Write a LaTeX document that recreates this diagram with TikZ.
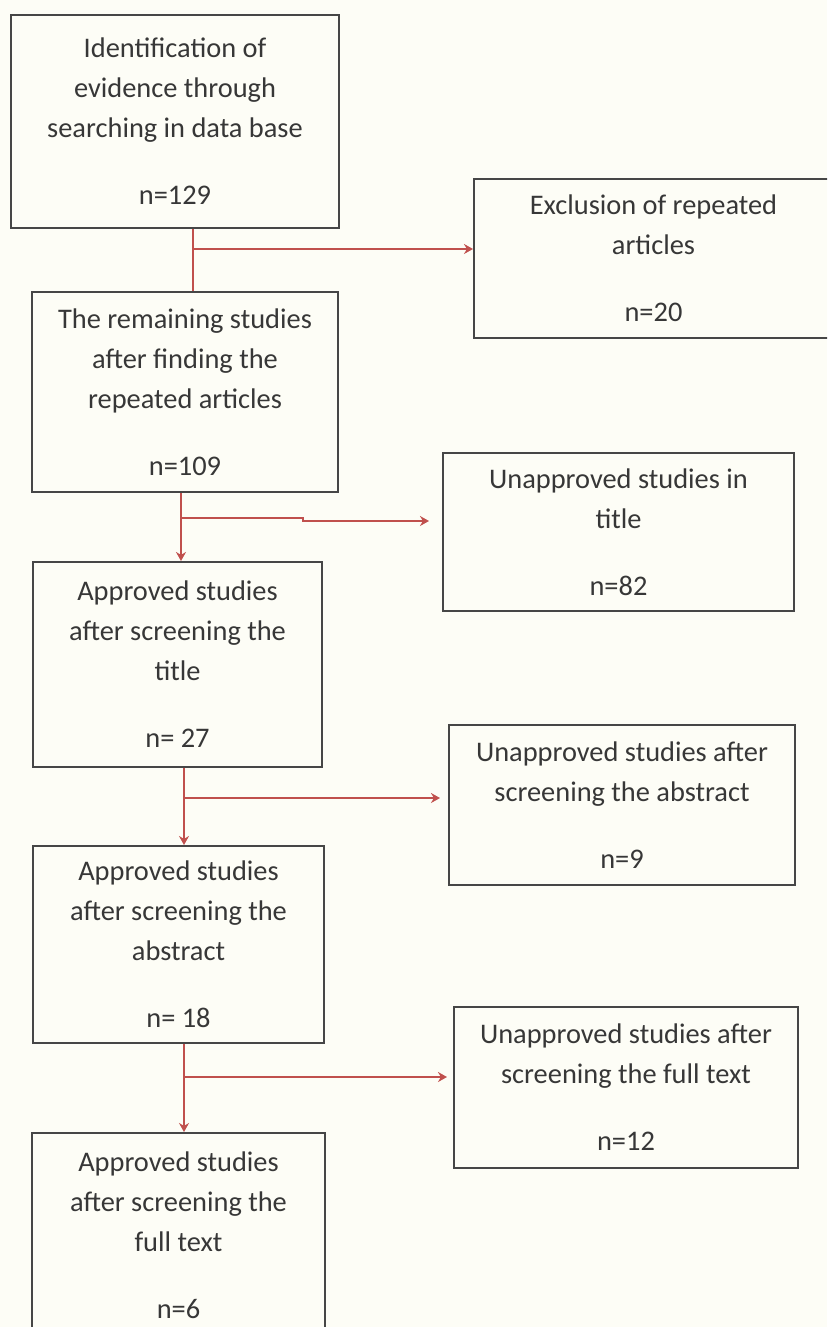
\documentclass[tikz,border=0pt]{standalone}
\usepackage{fontspec}
\setmainfont{Carlito}
\usetikzlibrary{arrows.meta}
\definecolor{paper}{RGB}{253,253,246}
\definecolor{flowred}{RGB}{192,80,77}
\definecolor{edgegray}{RGB}{70,70,70}
\definecolor{ink}{RGB}{55,55,55}
\tikzset{
  stage/.style={draw=edgegray, line width=1pt, fill=paper, align=center,
                inner sep=0pt, text=ink, font=\fontsize{14.2}{20}\selectfont},
  link/.style={draw=flowred, line width=0.8pt},
  flow/.style={link, -{Stealth[length=4.5pt,width=5pt]}},
}

\begin{document}
\begin{tikzpicture}[x=0.5pt, y=-0.5pt]

\fill[paper] (0,0) rectangle (827,1327);
\clip (0,0) rectangle (827,1327);

%% main column
\node[stage, minimum width=164pt, minimum height=106.5pt] (ident) at (175,121.5)
  {Identification of\\evidence through\\searching in data base\\[13.5pt]n=129};
\node[stage, minimum width=153pt, minimum height=100pt] (remain) at (185,392)
  {The remaining studies\\after finding the\\repeated articles\\[13.5pt]n=109};
\node[stage, minimum width=144.5pt, minimum height=102.5pt] (aptitle) at (177.5,664.5)
  {Approved studies\\after screening the\\title\\[13.5pt]n= 27};
\node[stage, minimum width=145.5pt, minimum height=98.5pt] (apabs) at (178.5,944.5)
  {Approved studies\\after screening the\\abstract\\[13.5pt]n= 18};
\node[stage, minimum width=146.5pt, minimum height=102pt] (apfull) at (178.5,1235)
  {Approved studies\\after screening the\\full text\\[13.5pt]n=6};

%% excluded column
\node[stage, minimum width=179.5pt, minimum height=79.5pt] (excl) at (653.5,258.5)
  {Exclusion of repeated\\articles\\[13.5pt]n=20};
\node[stage, minimum width=175.5pt, minimum height=79pt] (untitle) at (618.5,532)
  {Unapproved studies in\\title\\[13.5pt]n=82};
\node[stage, minimum width=173pt, minimum height=80pt] (unabs) at (622,805)
  {Unapproved studies after\\screening the abstract\\[13.5pt]n=9};
\node[stage, minimum width=172pt, minimum height=80.5pt] (unfull) at (626,1087.5)
  {Unapproved studies after\\screening the full text\\[13.5pt]n=12};

%% connectors
\coordinate (j1) at (193,249);
\draw[link] (ident.south -| j1) -- (remain.north -| j1);
\draw[flow] (j1) -- (excl.west |- j1);

\coordinate (j2) at (181,518);
\coordinate (t2) at (429,521);
\draw[flow] (remain.south -| j2) -- (aptitle.north -| j2);
\draw[flow] (j2) -- ++(122,0) -- ++(0,3) -- (t2);

\foreach \a/\b/\y/\t in {aptitle/apabs/798/440, apabs/apfull/1077/447} {
  \coordinate (j\b) at (184,\y);
  \coordinate (t\b) at (\t,\y);
  \draw[flow] (\a.south -| j\b) -- (\b.north -| j\b);
  \draw[flow] (j\b) -- (t\b);
}

\end{tikzpicture}
\end{document}
